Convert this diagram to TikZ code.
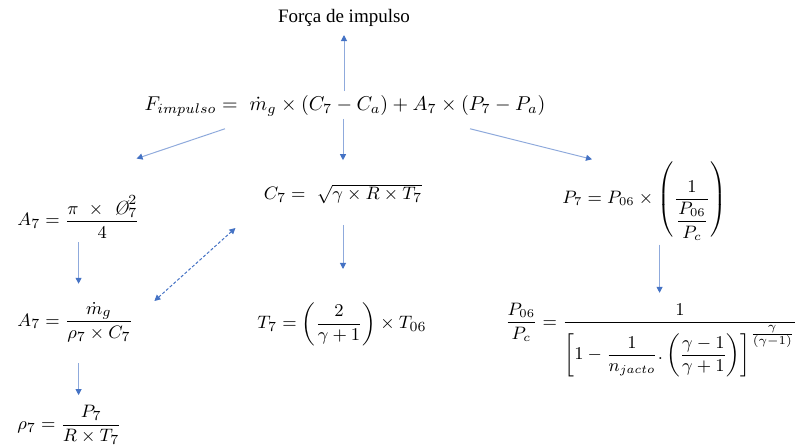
\documentclass[tikz,border=0pt]{standalone}
\usepackage{amsmath}
\usepackage{fontspec}
\newfontfamily\labelfont{Liberation Serif}
\usepackage{tikz}
\usetikzlibrary{arrows.meta,positioning,calc}
\definecolor{arrowblue}{RGB}{68,114,196}
\definecolor{lineblue}{RGB}{143,170,220}
\tikzset{
	eq/.style={inner sep=1pt, font=\fontsize{9.5}{11}\selectfont},
	caption/.style={inner sep=1pt, font=\labelfont\fontsize{9.5}{11}\selectfont},
	flow/.style={-{Triangle[length=3pt,width=3pt,color=arrowblue]},
		draw=lineblue, line width=0.5pt},
	link/.style={{Triangle[length=3pt,width=3pt]}-{Triangle[length=3pt,width=3pt]},
		draw=arrowblue, line width=0.5pt, dash pattern=on 1.5pt off 1pt}
}

\begin{document}
\begin{tikzpicture}[x=0.5pt,y=-0.5pt]
  \useasboundingbox (0,0) rectangle (800,448);
  % top
  \node[caption] (forca) at (344,18) {Força de impulso};
  \node[eq,font=\fontsize{9.8}{11}\selectfont] (impulso) at (345,106)
    {$F_{impulso} = \ \dot{m}_g\times(C_7-C_a)+A_7\times(P_7-P_a)$};
  % left column
  \node[eq,anchor=west] (area) at (15,217)
    {$A_7 = \dfrac{\pi\ \times\ \textit{\O}_7^2}{4}$};
  \node[eq,anchor=west] (areamass) at (15,322)
    {$A_7 = \dfrac{\dot{m}_g}{\rho_7\times C_7}$};
  \node[eq,anchor=west] (rho) at (15,425)
    {$\rho_7 = \dfrac{P_7}{R\times T_7}$};
  % middle column
  \node[eq] (vel) at (343,194) {$C_7 = \ \sqrt{\gamma\times R\times T_7}$};
  \node[eq] (temp) at (342,324)
    {$T_7 = \left(\dfrac{2}{\gamma+1}\right)\times T_{06}$};
  % right column
  \node[eq,anchor=west,font=\fontsize{9}{11}\selectfont] (press) at (560,201)
    {$P_7 = P_{06}\times\left(\dfrac{1}{\dfrac{P_{06}}{P_c}}\right)$};
  \node[eq,anchor=east,font=\fontsize{8.6}{10}\selectfont] (ratio) at (800,340)
    {$\dfrac{P_{06}}{P_c} = \dfrac{1}{\left[1-\dfrac{1}{n_{jacto}}.\left(\dfrac{\gamma-1}{\gamma+1}\right)\right]^{\tfrac{\gamma}{(\gamma-1)}}}$};

  \draw[flow,shorten <=1pt,shorten >=3pt] (impulso.north -| forca.south) -- (forca.south);
  \draw[flow,shorten >=11pt] (impulso.south -| vel.north) -- (vel.north);
  \draw[flow] ($(impulso.south)+(-120,10)$) -- ($(area.north)+(58,-35)$);
  \draw[flow] ($(impulso.south)+(125,10)$) -- ($(press.north west)+(32,0)$);
  \draw[flow,shorten <=1pt,shorten >=8pt] (area.south) -- (area.south |- areamass.north);
  \draw[flow,shorten <=9.5pt,shorten >=4pt] (area.south |- areamass.south) -- (area.south |- rho.north);
  \draw[flow,shorten <=9.5pt,shorten >=15.5pt] (vel.south) -- (vel.south |- temp.north);
  \draw[flow,shorten <=1pt,shorten >=4pt] ($(press.south)+(15,0)$) -- ($(press.south |- ratio.north)+(15,0)$);
  \draw[link] ($(areamass.east)+(19,-21)$) -- ($(vel.west)+(-26,34)$);
\end{tikzpicture}
\end{document}
